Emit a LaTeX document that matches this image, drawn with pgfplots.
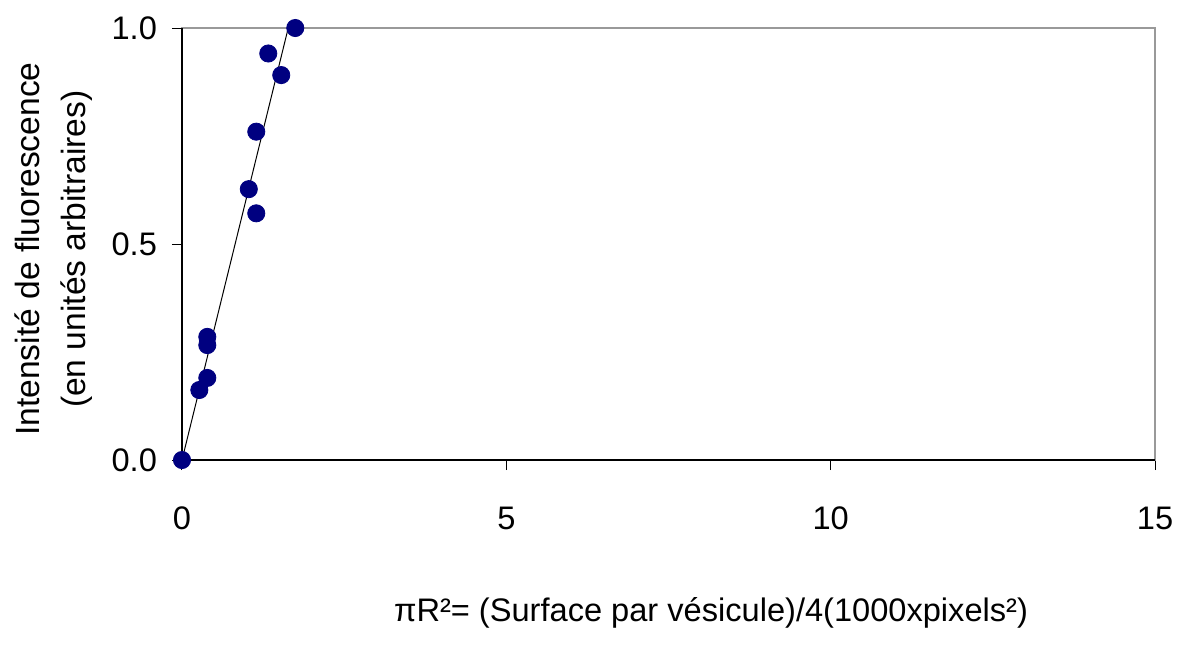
\documentclass[border=0pt]{standalone}
\usepackage{fontspec}
\setmainfont{Liberation Sans}
\usepackage{pgfplots}
\pgfplotsset{compat=1.18}
\definecolor{navyblue}{RGB}{0,0,128}
\begin{document}
\begin{tikzpicture}
\path[use as bounding box] (-91pt,-92pt) rectangle (502.5pt,230pt);
\begin{axis}[
  at={(0,0)}, anchor=south west,
  scale only axis, width=486.5pt, height=216pt,
  xmin=0, xmax=15, ymin=0, ymax=1,
  xtick={0,5,10,15}, ytick={0,0.5,1},
  xtick pos=left, ytick pos=left,
  tick align=outside, major tick length=5pt,
  tick style={black, line width=0.5pt},
  axis line style={gray!80, line width=0.6pt},
  clip mode=individual,
  /pgf/number format/assume math mode=true,
  ticklabel style={font=\fontsize{16.3}{19}\selectfont},
  yticklabel style={/pgf/number format/fixed, /pgf/number format/fixed zerofill, /pgf/number format/precision=1, xshift=-4pt},
  xticklabel style={yshift=-15pt},
  xlabel={πR²= (Surface par vésicule)/4(1000xpixels²)},
  xlabel style={at={(axis description cs:0.5437,-0.354)}, anchor=center, font=\fontsize{16.3}{19}\selectfont},
  ylabel={Intensité de fluorescence\\(en unités arbitraires)},
  ylabel style={at={(axis description cs:-0.1320,0.488)}, anchor=center, rotate=0, align=center, font=\fontsize{16.8}{23}\selectfont},
]
\draw[black, line width=0.6pt] (rel axis cs:0,1) -- (rel axis cs:0,0) -- (rel axis cs:1,0);
\addplot[black, line width=0.5pt] coordinates {(0,0) (1.746,1.066)};
\addplot[only marks, mark=*, mark size=4.3pt, mark options={fill=navyblue, draw=navyblue}] coordinates {
(0,0) (0.267,0.162) (0.39,0.19) (0.39,0.285) (0.39,0.266)
(1.03,0.627) (1.145,0.571) (1.145,0.760) (1.33,0.941) (1.53,0.891) (1.746,1.0)
};
\end{axis}
\end{tikzpicture}
\end{document}
